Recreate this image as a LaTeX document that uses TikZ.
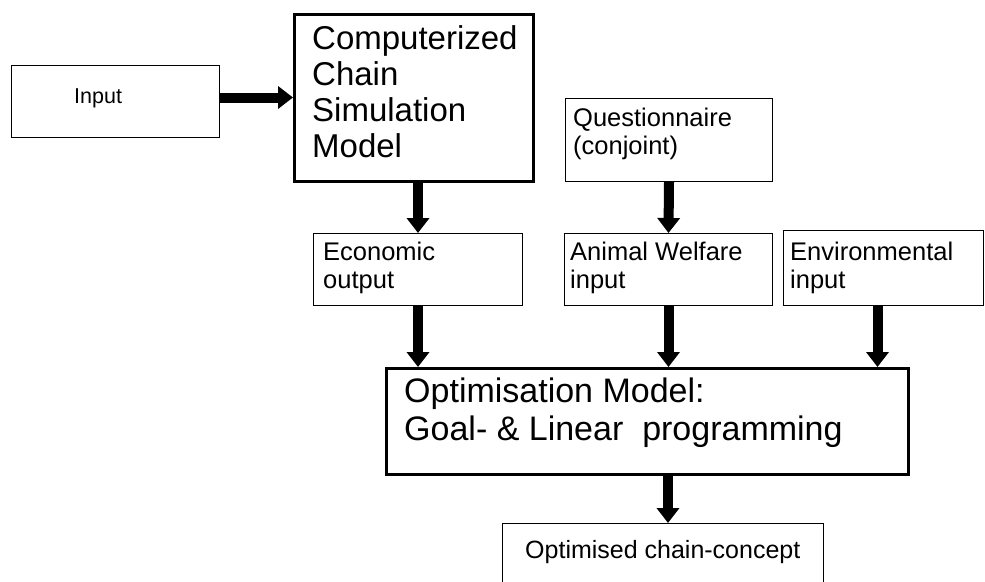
\documentclass[tikz,border=0pt]{standalone}
\usepackage{fontspec}
\setmainfont{Liberation Sans}
\usetikzlibrary{arrows.meta}

\tikzset{
  box/.style={draw, line width=1pt, inner sep=0pt, anchor=north west},
  thickbox/.style={box, line width=2.6pt},
  txt/.style={anchor=base west, align=left, inner sep=0pt},
  small/.style={font=\fontsize{25.5}{28}\selectfont},
  large/.style={font=\fontsize{33}{36}\selectfont},
  fat/.style={line width=10pt, -{Triangle[width=22pt,length=15pt]}},
}

\begin{document}
\begin{tikzpicture}[x=1pt,y=-1pt]
  \useasboundingbox (0,0) rectangle (985,581);
  \clip (0,0) rectangle (985,581);
  % frames
  \node[box, minimum width=208pt, minimum height=72pt] (input) at (11,65) {};
  \node[thickbox, minimum width=239pt, minimum height=167pt] (sim) at (293,13) {};
  \node[box, minimum width=207pt, minimum height=83pt] (quest) at (565,98) {};
  \node[box, minimum width=209pt, minimum height=72pt] (econ) at (313,233) {};
  \node[box, minimum width=208pt, minimum height=72pt] (welfare) at (564,233) {};
  \node[box, minimum width=200pt, minimum height=75pt] (env) at (783,230) {};
  \node[thickbox, minimum width=522pt, minimum height=106pt] (opt) at (385,367) {};
  \node[box, minimum width=321pt, minimum height=80pt] (result) at (502,523) {};

  % texts (anchored on the baseline of the last line)
  \node[txt, font=\fontsize{21.5}{26}\selectfont] (input-t) at ([shift={(63,38)}]input.north west) {Input};
  \node[txt, large] (sim-t) at ([shift={(19,144)}]sim.north west) {Computerized\\Chain\\Simulation\\Model};
  \node[txt, small] (quest-t) at ([shift={(8,56)}]quest.north west) {Questionnaire\\(conjoint)};
  \node[txt, small] (econ-t) at ([shift={(10,55)}]econ.north west) {Economic\\output};
  \node[txt, small] (welfare-t) at ([shift={(6,55)}]welfare.north west) {Animal Welfare\\input};
  \node[txt, small] (env-t) at ([shift={(7,58)}]env.north west) {Environmental\\input};
  \node[txt, font=\fontsize{34}{38}\selectfont] (opt-t) at ([shift={(19,73)}]opt.north west) {Optimisation Model:\\Goal- \& Linear~~programming};
  \node[txt, font=\fontsize{25}{30}\selectfont] (result-t) at ([shift={(23,35)}]result.north west) {Optimised chain-concept};

  % flows
  \draw[fat] ([yshift=4pt]input.east) -- ([yshift=4pt]input.east -| sim.west);
  \draw[fat] (econ.north |- sim.south) -- (econ.north);
  \draw[fat] (quest.south) -- (welfare.north);
  \draw[fat] (econ.south) -- (econ.south |- opt.north);
  \draw[fat] (welfare.south) -- (welfare.south |- opt.north);
  \draw[fat] ([xshift=-6pt]env.south) -- ([xshift=-6pt]env.south |- opt.north);
  \draw[fat] ([xshift=5pt]result.north |- opt.south) -- ([xshift=5pt]result.north);
\end{tikzpicture}
\end{document}
